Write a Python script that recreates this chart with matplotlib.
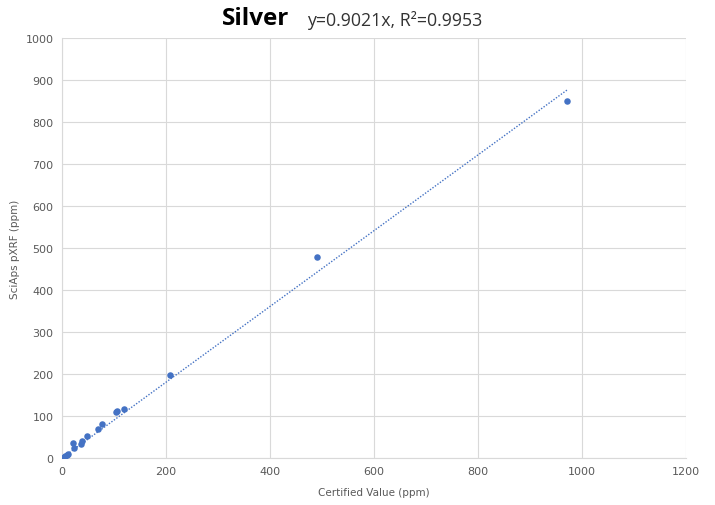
import matplotlib.pyplot as plt
import numpy as np

# Certified vs measured silver concentrations (ppm)
certified = [3, 6, 9, 12, 22, 24, 37, 39, 49, 70, 77, 103, 106, 119, 208, 490, 971]
measured = [3, 5, 7, 9, 35, 24, 33, 40, 52, 69, 82, 110, 112, 117, 198, 478, 849]
slope = 0.9021
r_squared = 0.9953

blue = '#4472C4'
grid_col = '#d9d9d9'
text_col = '#595959'

fig = plt.figure(figsize=(7.15, 5.06), dpi=100)
ax = fig.add_axes([62 / 715, 1 - 459 / 506, 624 / 715, 420 / 506])

ax.scatter(certified, measured, s=22, color=blue, zorder=3, linewidths=0)

# Linear trendline forced through zero
x_fit = np.array([0, max(certified)])
ax.plot(x_fit, slope * x_fit, color=blue, linestyle=(0, (1, 1.2)), linewidth=1.0, zorder=2)

ax.set_xlim(0, 1200)
ax.set_ylim(0, 1000)
ax.set_xticks(np.arange(0, 1201, 200))
ax.set_yticks(np.arange(0, 1001, 100))
ax.grid(True, color=grid_col, linewidth=0.8)
ax.set_axisbelow(True)
for side in ['top', 'right']:
    ax.spines[side].set_visible(False)
for side in ['left', 'bottom']:
    ax.spines[side].set_color(grid_col)
    ax.spines[side].set_linewidth(0.8)
ax.tick_params(length=0, labelsize=8, colors=text_col, pad=6)

ax.set_xlabel('Certified Value (ppm)', fontsize=7.5, color=text_col, labelpad=8)
ax.set_ylabel('SciAps pXRF (ppm)', fontsize=7.5, color=text_col, labelpad=4)

fig.text(222 / 715, 0.963, 'Silver', fontsize=17.5, fontweight='bold', family='Open Sans',
         ha='left', va='center', color='black')
fig.text(307 / 715, 0.960, f'y={slope}x, R\u00b2={r_squared}', fontsize=12.8, family='Open Sans',
         ha='left', va='center', color='#333333')

fig.savefig('out.png', dpi=100)
